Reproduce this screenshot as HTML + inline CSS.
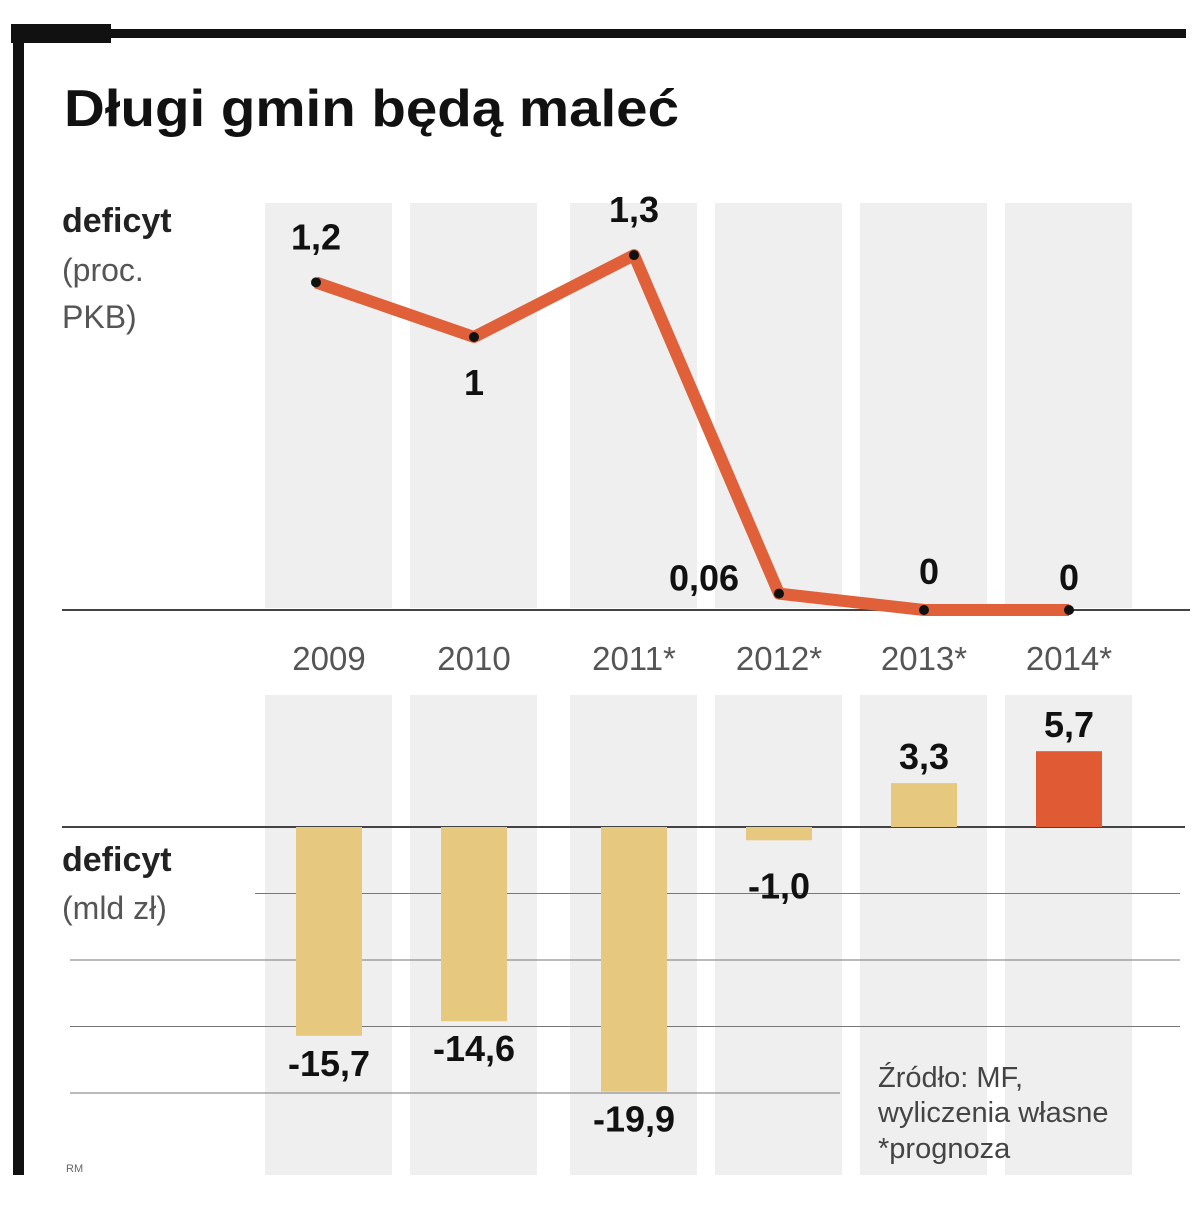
<!DOCTYPE html>
<html><head><meta charset="utf-8">
<style>
body{margin:0;background:#fff;}
svg{display:block;}
.t{font-family:"Liberation Sans",sans-serif;}
</style></head>
<body>
<svg width="1200" height="1212" viewBox="0 0 1200 1212" xmlns="http://www.w3.org/2000/svg">
<rect x="13" y="30" width="11" height="1145" fill="#111"/>
<rect x="11" y="24" width="100" height="19" fill="#111"/>
<rect x="100" y="29" width="1086" height="9" fill="#111"/>
<text x="64" y="126" class="t" font-size="52" font-weight="bold" fill="#111" textLength="615" lengthAdjust="spacingAndGlyphs">Długi gmin będą maleć</text>
<g id="cols"></g>
<text x="62" y="232" class="t" font-size="34" font-weight="bold" fill="#222">deficyt</text>
<text x="62" y="281" class="t" font-size="32" fill="#555">(proc.</text>
<text x="62" y="328" class="t" font-size="32" fill="#555">PKB)</text>
<text x="62" y="871" class="t" font-size="34" font-weight="bold" fill="#222">deficyt</text>
<text x="62" y="919" class="t" font-size="32" fill="#555">(mld zł)</text>
<g id="grid"></g>
<g id="bars"></g>
<g id="line"></g>
<g id="years"></g>
<text x="878" y="1087" class="t" font-size="29" fill="#444">Źródło: MF,</text>
<text x="878" y="1122" class="t" font-size="29" fill="#444">wyliczenia własne</text>
<text x="878" y="1158" class="t" font-size="29" fill="#444">*prognoza</text>
<text x="66" y="1172" class="t" font-size="11" fill="#666">RM</text>
</svg>
<script>
const years=["2009","2010","2011*","2012*","2013*","2014*"];
const pctValues=[1.2,1.0,1.3,0.06,0,0];
const pctLabels=["1,2","1","1,3","0,06","0","0"];
const bnValues=[-15.7,-14.6,-19.9,-1.0,3.3,5.7];
const bnLabels=["-15,7","-14,6","-19,9","-1,0","3,3","5,7"];
const gridTicks=[-5,-10,-15,-20];
const NS="http://www.w3.org/2000/svg";
const colLeft=[265,410,570,715,860,1005];
function colX(i){return colLeft[i];}
function cx(i){return colLeft[i]+64;}
function yPct(v){return 610-v*273;}
function yBn(v){return 827-v*13.3;}
function mk(tag,attrs,parent,txt){const e=document.createElementNS(NS,tag);for(const k in attrs)e.setAttribute(k,attrs[k]);if(txt!==undefined)e.textContent=txt;document.getElementById(parent).appendChild(e);return e;}
years.forEach((y,i)=>{
 let e=mk("rect",{x:colX(i),y:203,width:127,height:405,fill:"#efefef"},"cols");
 
 
 e=mk("rect",{x:colX(i),y:695,width:127,height:480,fill:"#efefef"},"cols");
 
 
 e=mk("text",{x:cx(i),y:670,"text-anchor":"middle",class:"t","font-size":"33",fill:"#555"},"years",y);
 
 
});
let g=mk("line",{x1:62,x2:1190,y1:610,y2:610,stroke:"#444","stroke-width":2},"grid");


g=mk("line",{x1:62,x2:1185,y1:827,y2:827,stroke:"#444","stroke-width":2},"grid");


gridTicks.forEach((t,k)=>{
 const x1=k===0?255:70, x2=k===3?840:1180;
 const l=mk("line",{x1:x1,x2:x2,y1:yBn(t),y2:yBn(t),stroke:"#777","stroke-width":1},"grid");
 
 
});
bnValues.forEach((v,i)=>{
 const x=cx(i)-33;
 const y0=Math.min(yBn(0),yBn(v)),h=Math.abs(yBn(v)-yBn(0));
 const r=mk("rect",{x:x,y:y0,width:66,height:h,fill:i===5?"#e05b34":"#e6c87f"},"bars");
 
 
 const ly=v>=0?yBn(v)-14:yBn(v)+(i===3?58:40);
 const t=mk("text",{x:cx(i),y:ly,"text-anchor":"middle",class:"t","font-size":"36","font-weight":"bold",fill:"#111"},"bars",bnLabels[i]);
 
 
});
const pts=pctValues.map((v,i)=>[cx(i)-(i===0?13:0),yPct(v)]);
const pl=mk("polyline",{points:pts.map(p=>p.join(",")).join(" "),fill:"none",stroke:"#e0603a","stroke-width":12,"stroke-linejoin":"round"},"line");


const labOff=[[0,-33],[0,58],[0,-33],[-75,-3],[5,-26],[0,-20]];
pts.forEach((p,i)=>{
 const c=mk("circle",{cx:p[0],cy:p[1],r:5,fill:"#111"},"line");
 
 
 const t=mk("text",{x:p[0]+labOff[i][0],y:p[1]+labOff[i][1],"text-anchor":"middle",class:"t","font-size":"36","font-weight":"bold",fill:"#111"},"line",pctLabels[i]);
 
 
});
</script>
</body></html>
